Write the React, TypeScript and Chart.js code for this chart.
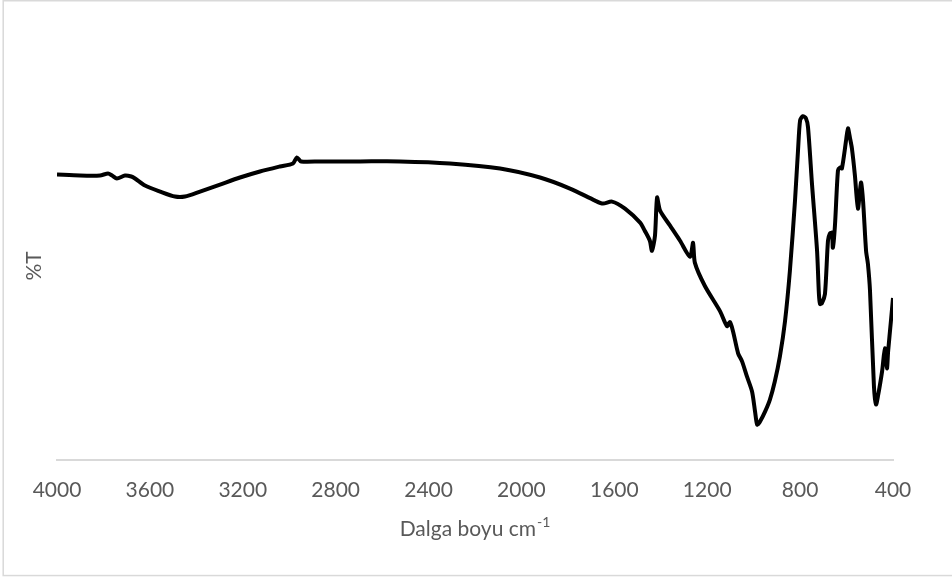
import React, { useEffect, useRef } from "react";
import { Chart, registerables } from "chart.js";

Chart.register(...registerables);

// Wavenumbers (cm-1) and transmittance (arbitrary units)
const wavenumbers = [
  4000, 3901, 3815, 3780, 3763, 3742, 3707, 3680, 3664, 3621, 3556, 3492, 3449, 3384,
  3298, 3212, 3126, 3040, 2984, 2967, 2949, 2867, 2695, 2523, 2308, 2092, 1920, 1791,
  1683, 1649, 1610, 1554, 1489, 1469, 1447, 1438, 1425, 1416, 1403, 1360, 1317, 1274,
  1261, 1253, 1210, 1145, 1115, 1102, 1089, 1067, 1050, 1029, 1007, 994, 985, 973,
  951, 930, 909, 887, 865, 844, 822, 809, 800, 788, 775, 766, 749, 727, 719, 714,
  706, 693, 680, 672, 663, 659, 650, 637, 628, 620, 602, 594, 585, 577, 564, 551,
  538, 529, 516, 508, 499, 482, 473, 465, 447, 435, 426, 421, 409, 400,
];
const transmittance = [
  284, 283, 283, 285, 283, 280, 283, 282, 280, 273, 267, 262, 262, 267,
  274, 281, 287, 292, 295, 301, 297, 297, 297, 297, 295, 290, 281, 270,
  258, 255, 257, 250, 236, 228, 218, 208, 223, 261, 248, 233, 218, 202,
  216, 196, 173, 148, 133, 137, 128, 106, 98, 83, 68, 48, 35, 38,
  48, 60, 78, 103, 138, 188, 258, 308, 338, 342, 340, 331, 275, 208, 165, 155,
  156, 165, 218, 225, 226, 211, 233, 288, 291, 290, 318, 330, 320, 310, 283, 250,
  276, 258, 208, 195, 168, 73, 55, 63, 88, 111, 91, 108, 138, 161,
];
const xTicks = [4000, 3600, 3200, 2800, 2400, 2000, 1600, 1200, 800, 400];
const xTitle = "Dalga boyu cm";
const xTitleSup = "-1";
const yTitle = "%T";

const FONT = "Lato, 'Open Sans', sans-serif";
const TEXT_COLOR = "#595959";

const decorPlugin = {
  id: "decor",
  beforeDraw(chart: any) {
    const ctx = chart.ctx;
    ctx.save();
    ctx.fillStyle = "#ffffff";
    ctx.fillRect(0, 0, chart.width, chart.height);
    ctx.strokeStyle = "#d9d9d9";
    ctx.lineWidth = 1.5;
    ctx.strokeRect(3.2, 0.75, 960, 574.8);
    ctx.restore();
  },
  afterDraw(chart: any) {
    const ctx = chart.ctx;
    const area = chart.chartArea;
    ctx.save();
    ctx.fillStyle = TEXT_COLOR;
    ctx.textBaseline = "alphabetic";
    ctx.font = `21px ${FONT}`;
    const mainW = ctx.measureText(xTitle).width;
    ctx.font = `14px ${FONT}`;
    const supW = ctx.measureText(xTitleSup).width;
    const total = mainW + supW + 1;
    const cx = (area.left + area.right) / 2;
    const x0 = cx - total / 2;
    const baseY = 536;
    ctx.font = `21px ${FONT}`;
    ctx.textAlign = "left";
    ctx.fillText(xTitle, x0, baseY);
    ctx.font = `14px ${FONT}`;
    ctx.fillText(xTitleSup, x0 + mainW + 1, baseY - 9);
    ctx.restore();
  },
};

export default function App() {
  const canvasRef = useRef<HTMLCanvasElement | null>(null);

  useEffect(() => {
    if (!canvasRef.current) return;
    const points = wavenumbers.map((w, i) => ({ x: w, y: transmittance[i] }));
    const chart = new Chart(canvasRef.current, {
      type: "line",
      data: {
        datasets: [
          {
            data: points,
            borderColor: "#000000",
            borderWidth: 4,
            pointRadius: 0,
            tension: 0.25,
            fill: false,
          },
        ],
      },
      options: {
        responsive: false,
        animation: false,
        layout: { padding: { left: 17.4, right: 59, top: 72, bottom: 56 } },
        plugins: {
          legend: { display: false },
          tooltip: { enabled: false },
        },
        scales: {
          x: {
            type: "linear",
            reverse: true,
            min: 400,
            max: 4000,
            afterBuildTicks: (scale: any) => {
              scale.ticks = xTicks.map((v) => ({ value: v }));
            },
            grid: { display: false, drawTicks: false },
            border: { display: true, color: "#d9d9d9", width: 2 },
            ticks: {
              color: TEXT_COLOR,
              font: { family: FONT, size: 21 },
              padding: 18,
              maxRotation: 0,
              autoSkip: false,
              callback: (v: any) => String(v),
            },
          },
          y: {
            min: 0,
            max: 386,
            grid: { display: false, drawTicks: false },
            border: { display: false },
            ticks: { display: false },
            title: {
              display: true,
              text: yTitle,
              color: TEXT_COLOR,
              font: { family: FONT, size: 21 },
              padding: { top: 4, bottom: 10.4 },
            },
          },
        },
      },
      plugins: [decorPlugin],
    });
    return () => chart.destroy();
  }, []);

  return (
    <div style={{ position: "absolute", left: 0, top: 0, width: 952, height: 577 }}>
      <canvas ref={canvasRef} width={952} height={577} style={{ display: "block" }} />
    </div>
  );
}
